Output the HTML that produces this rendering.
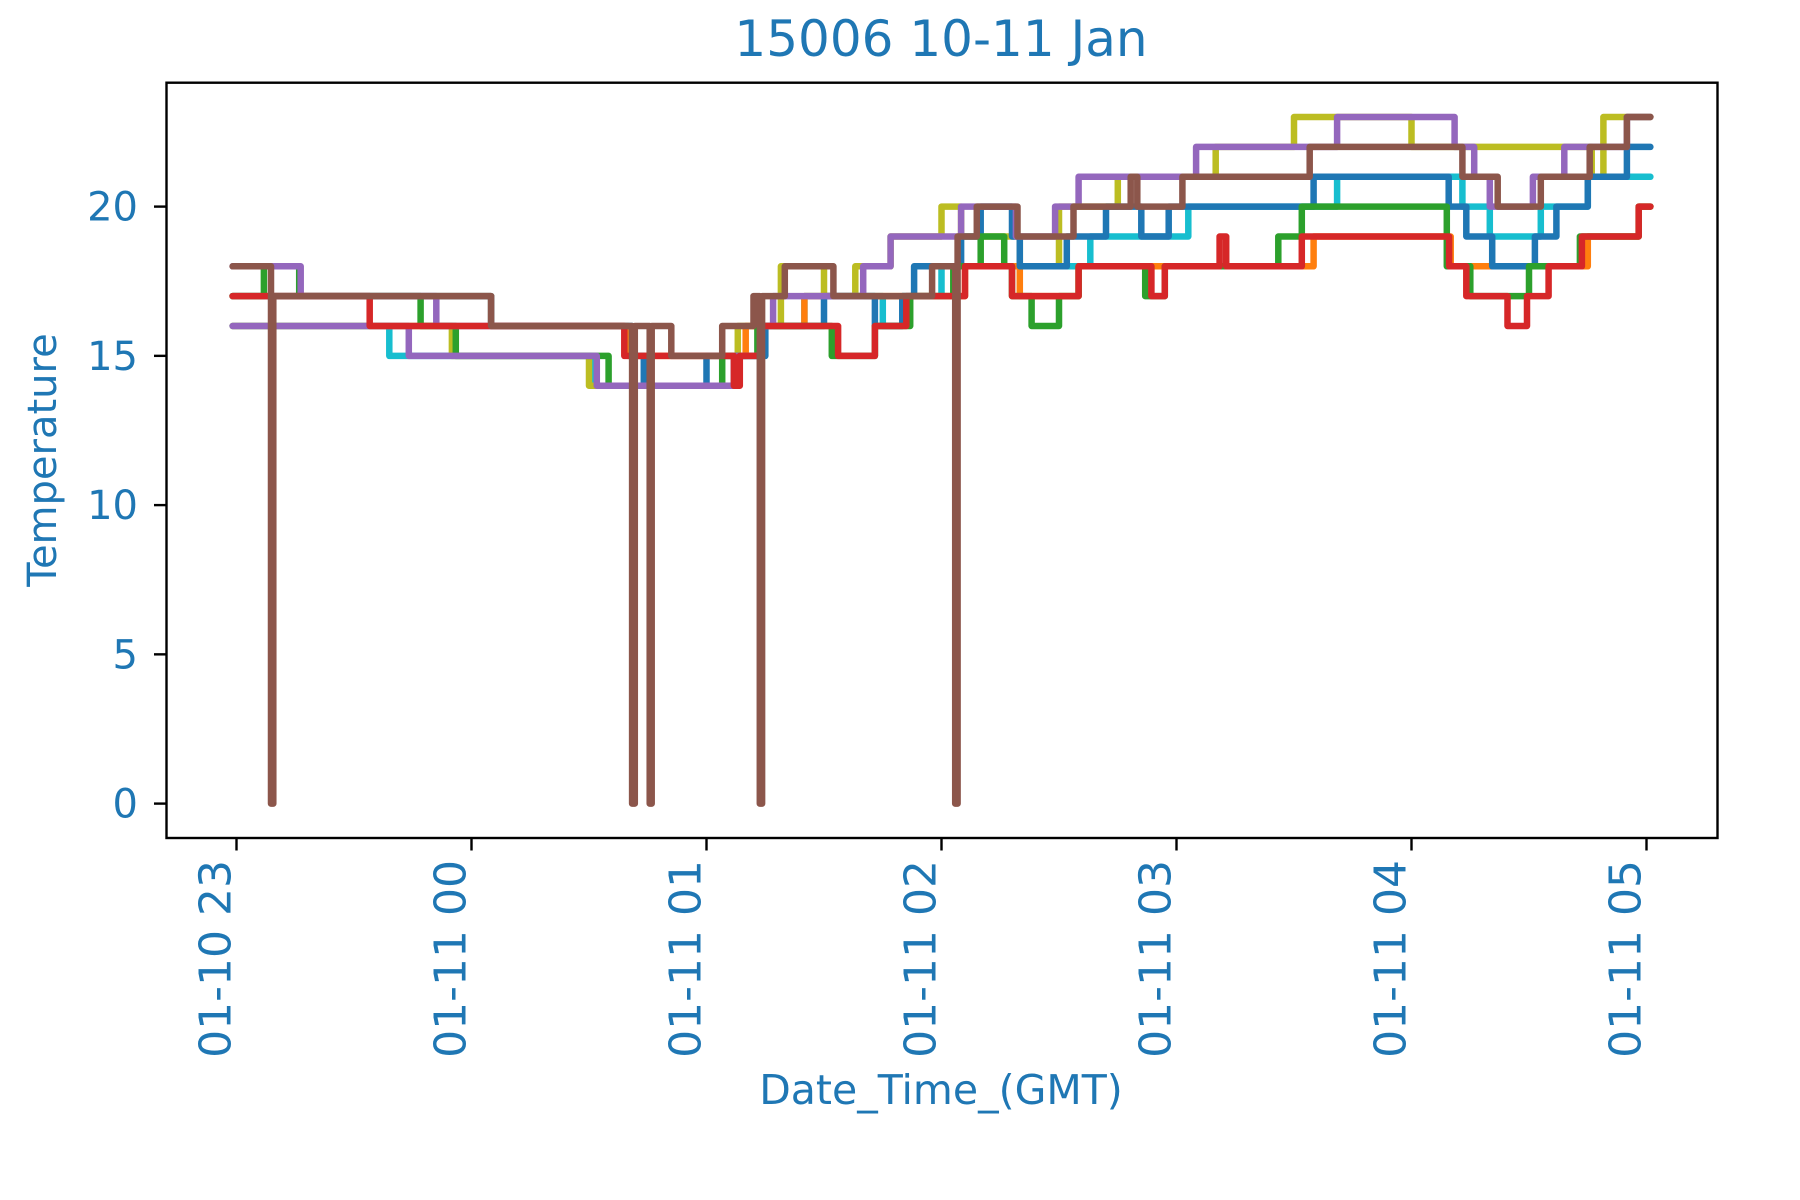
<!DOCTYPE html>
<html><head><meta charset="utf-8"><style>
html,body{margin:0;padding:0;background:#fff;}
svg{display:block;font-family:"DejaVu Sans","Liberation Sans",sans-serif;}
</style></head><body>
<svg id="chart" width="1800" height="1200" viewBox="0 0 1800 1200">
<text x="941" y="56" text-anchor="middle" font-size="50" fill="#1f77b4">15006 10-11 Jan</text>
<g id="series"></g>
<rect x="166.5" y="82.7" width="1551" height="755.3" fill="none" stroke="#000" stroke-width="2.4"/>
<g id="yticks"></g>
<g id="xticks"></g>
<text x="941" y="1104" text-anchor="middle" font-size="41" fill="#1f77b4">Date_Time_(GMT)</text>
<text transform="translate(56,460) rotate(-90)" text-anchor="middle" font-size="40" fill="#1f77b4">Temperature</text>
</svg>
<script>
// minutes after 01-10 23:00 and temperature values
const brownT=[-1,8.8,9.4,65,101,101.7,105.5,106,111,124,132,133.6,134.2,140,152.4,177.6,183.5,184.1,189,199.4,213.7,228.3,230,241.5,274,313,322,333,345.5,355,361];
const brownV=[18,0,17,16,0,16,0,16,15,16,17,0,17,18,17,18,0,19,20,19,20,21,20,21,22,21,20,21,22,23,23];
const purpleT=[-1,44,92,127,134,137,160,167,185,199,209,215,245,281,311,316,320,331,339,355,361];
const purpleV=[16,15,14,15,16,17,18,19,20,19,20,21,22,23,22,21,20,21,22,23,23];
const purple2T=[-1,16.4,51,92];
const purple2V=[18,17,16,16];
const redT=[-1,34,99,127,128.5,134,153.6,163,171,186,198,215,233.6,237,251,252.7,272,309.6,314,324.5,329.5,335,343.5,358,361];
const redV=[17,16,15,14,15,16,15,16,17,18,17,18,17,18,19,18,19,18,17,16,17,18,19,20,20];
const blueT=[-1,65,101,104,120,135,150,163,170,173,185,190,198,200,212,222,231,238,242,275,309.5,314,320.6,331.5,337,345,355,361];
const blueV=[17,16,15,14,15,16,17,16,17,18,19,20,19,18,19,20,19,20,20,21,20,19,18,19,20,21,22,22];
const cyanT=[-1,39,90.5,127,135,145,165,170,180,218,243,281,313,320,333,345,361];
const cyanV=[16,15,14,15,16,17,16,17,18,19,20,21,20,19,20,21,21];
const greenT=[-1,7,16,47,56,95,124,133,152,163,172,183,190,196,198,203,210,215,232,237,266,272,309,315,330,343,358,361];
const greenV=[17,18,17,16,15,14,15,16,15,16,17,18,19,18,17,16,17,18,17,18,19,20,18,17,18,19,20,20];
const oliveT=[-1,55,90,128,139,150,158,167,180,185,200,210,225,250,270,300,340,346,349,361];
const oliveV=[16,15,14,16,18,17,18,19,20,19,18,20,21,22,23,22,22,21,23,23];
const orangeT=[-1,65,100,130,145,186,200,215,275,310,330,345,358,361];
const orangeV=[17,16,15,16,17,18,17,18,19,18,18,19,20,20];
const yTickVals=[0,5,10,15,20];
const xTickMin=[0,60,120,180,240,300,360];
const xTickLabels=["01-10 23","01-11 00","01-11 01","01-11 02","01-11 03","01-11 04","01-11 05"];

const X0=236.5, PXMIN=235/60, Y0=803.6, PYU=29.85;
const xs=m=>X0+m*PXMIN, ys=v=>Y0-v*PYU;
const NS="http://www.w3.org/2000/svg";
const sg=document.getElementById('series');
const list=[[cyanT,cyanV,'#17becf','cyan'],[oliveT,oliveV,'#bcbd22','olive'],[orangeT,orangeV,'#ff7f0e','orange'],[blueT,blueV,'#1f77b4','blue'],[greenT,greenV,'#2ca02c','green'],[purple2T,purple2V,'#9467bd','purple-b'],[purpleT,purpleV,'#9467bd','purple'],[redT,redV,'#d62728','red'],[brownT,brownV,'#8c564b','brown']];
list.forEach(([T,V,c,n])=>{
  let d='M'+xs(T[0]).toFixed(1)+','+ys(V[0]).toFixed(1);
  for(let i=1;i<T.length;i++){d+=' H'+xs(T[i]).toFixed(1)+' V'+ys(V[i]).toFixed(1);}
  const p=document.createElementNS(NS,'path');
  p.setAttribute('d',d);p.setAttribute('fill','none');p.setAttribute('stroke',c);
  p.setAttribute('stroke-width','6.5');p.setAttribute('stroke-linejoin','round');p.setAttribute('stroke-linecap','round');
  
  
  sg.appendChild(p);
});
const yg=document.getElementById('yticks');
yTickVals.forEach(v=>{
  const y=ys(v);
  const l=document.createElementNS(NS,'line');
  l.setAttribute('x1',154);l.setAttribute('x2',166.5);l.setAttribute('y1',y);l.setAttribute('y2',y);
  l.setAttribute('stroke','#000');l.setAttribute('stroke-width','2.4');
  
  
  yg.appendChild(l);
  const t=document.createElementNS(NS,'text');
  t.setAttribute('x',138);t.setAttribute('y',y+14);t.setAttribute('text-anchor','end');
  t.setAttribute('font-size','40');t.setAttribute('fill','#1f77b4');t.textContent=v;
  
  
  yg.appendChild(t);
});
const xg=document.getElementById('xticks');
xTickMin.forEach((m,i)=>{
  const x=xs(m);
  const l=document.createElementNS(NS,'line');
  l.setAttribute('x1',x);l.setAttribute('x2',x);l.setAttribute('y1',838);l.setAttribute('y2',850.5);
  l.setAttribute('stroke','#000');l.setAttribute('stroke-width','2.4');
  
  
  xg.appendChild(l);
  const t=document.createElementNS(NS,'text');
  t.setAttribute('transform','translate('+(x-6)+',860) rotate(-90)');
  t.setAttribute('text-anchor','end');
  t.setAttribute('font-size','44');t.setAttribute('fill','#1f77b4');t.textContent=xTickLabels[i];
  
  
  xg.appendChild(t);
});
</script>
</body></html>
